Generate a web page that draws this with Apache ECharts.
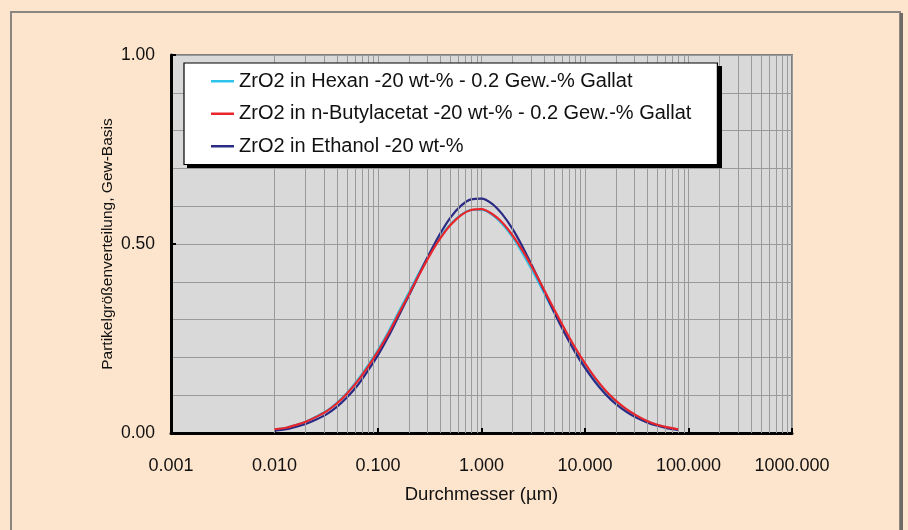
<!DOCTYPE html>
<html>
<head>
<meta charset="utf-8">
<script src="https://cdn.jsdelivr.net/npm/echarts@6/dist/echarts.min.js"></script>
<style>
  html, body { margin: 0; padding: 0; background: #fde4cc; }
  #chart { width: 908px; height: 530px; }
</style>
</head>
<body>
<div id="chart"></div>
<script>
// Particle size classes (µm), log-spaced
const sizes = [0.010, 0.013, 0.016, 0.020, 0.025, 0.032, 0.040, 0.050, 0.063, 0.079,
  0.100, 0.126, 0.158, 0.200, 0.251, 0.316, 0.398, 0.501, 0.631, 0.794,
  1.000, 1.259, 1.585, 1.995, 2.512, 3.162, 3.981, 5.012, 6.310, 7.943,
  10.00, 12.59, 15.85, 19.95, 25.12, 31.62, 39.81, 50.12, 63.10, 79.43];

// Distribution values, weight basis
const hexan = [0.009, 0.014, 0.021, 0.030, 0.043, 0.059, 0.080, 0.106, 0.139, 0.177,
  0.220, 0.268, 0.320, 0.373, 0.425, 0.474, 0.517, 0.552, 0.577, 0.590,
  0.590, 0.578, 0.553, 0.518, 0.474, 0.425, 0.373, 0.320, 0.269, 0.221,
  0.178, 0.140, 0.108, 0.082, 0.061, 0.044, 0.031, 0.021, 0.014, 0.009];

const butylacetat = [0.010, 0.014, 0.021, 0.030, 0.042, 0.058, 0.078, 0.104, 0.136, 0.173,
  0.216, 0.263, 0.315, 0.368, 0.420, 0.470, 0.514, 0.550, 0.576, 0.590,
  0.592, 0.580, 0.557, 0.523, 0.481, 0.433, 0.381, 0.328, 0.277, 0.228,
  0.184, 0.145, 0.112, 0.085, 0.063, 0.046, 0.032, 0.022, 0.015, 0.010];

const ethanol = [0.006, 0.010, 0.016, 0.024, 0.035, 0.050, 0.069, 0.094, 0.125, 0.163,
  0.206, 0.255, 0.309, 0.365, 0.421, 0.476, 0.527, 0.570, 0.601, 0.618,
  0.620, 0.607, 0.579, 0.540, 0.491, 0.436, 0.379, 0.321, 0.266, 0.216,
  0.172, 0.134, 0.102, 0.076, 0.056, 0.040, 0.028, 0.019, 0.012, 0.008];

const seriesNames = [
  'ZrO2 in Hexan -20 wt-% - 0.2 Gew.-% Gallat',
  'ZrO2 in n-Butylacetat -20 wt-% - 0.2 Gew.-% Gallat',
  'ZrO2 in Ethanol -20 wt-%'
];

// Minor vertical grid positions: 2..9 in each decade
const minorGrid = [];
[0.001, 0.01, 0.1, 1, 10, 100].forEach(d => {
  for (let k = 2; k <= 9; k++) minorGrid.push(+(d * k).toPrecision(3));
});

const FONT = 'Liberation Sans, Arial, sans-serif';
const pairs = ys => sizes.map((x, i) => [x, ys[i]]);

const chart = echarts.init(document.getElementById('chart'), null, { renderer: 'canvas' });

function curve(name, color, ys, z) {
  return {
    name, type: 'line', data: pairs(ys), z,
    showSymbol: false, symbol: 'none', smooth: 0.3,
    lineStyle: { color, width: 2.2 },
    itemStyle: { color },
    animation: false
  };
}

chart.setOption({
  backgroundColor: '#fde4cc',
  animation: false,
  textStyle: { fontFamily: FONT },
  graphic: [
    {
      type: 'rect', silent: true, z: 0,
      shape: { x: 11, y: 12, width: 889, height: 540 },
      style: { fill: 'none', stroke: '#8c8682', lineWidth: 2 }
    },
    {
      type: 'line', silent: true, z: 0,
      shape: { x1: 901.5, y1: 13, x2: 901.5, y2: 530 },
      style: { stroke: '#6f6a66', lineWidth: 3 }
    },
    {
      // drop shadow behind the legend box
      type: 'rect', silent: true, z: 15,
      shape: { x: 187, y: 66, width: 535, height: 102 },
      style: { fill: '#000' }
    }
  ],
  grid: {
    left: 171, top: 55, right: 116, bottom: 97,
    show: true, backgroundColor: '#d9d9d9',
    borderColor: '#808080', borderWidth: 2
  },
  legend: {
    data: seriesNames,
    z: 20,
    orient: 'vertical',
    left: 184, top: 63,
    padding: [7, 26, 7, 27],
    icon: 'rect',
    itemWidth: 23, itemHeight: 2.5, itemGap: 10,
    backgroundColor: '#ffffff',
    borderColor: '#000000', borderWidth: 1.2,
    textStyle: { fontFamily: FONT, fontSize: 20, color: '#111', lineHeight: 22.5 }
  },
  xAxis: {
    type: 'log', logBase: 10, min: 0.001, max: 1000,
    name: 'Durchmesser (µm)', nameLocation: 'middle', nameGap: 52,
    nameTextStyle: { fontFamily: FONT, fontSize: 18.5, color: '#111' },
    axisLine: { show: true, lineStyle: { color: '#000', width: 3 } },
    axisTick: { show: true, inside: true, length: 5, lineStyle: { color: '#000', width: 2 } },
    axisLabel: {
      fontFamily: FONT, fontSize: 18, color: '#111', margin: 24,
      formatter: v => Number(v).toFixed(3)
    },
    splitLine: { show: true, lineStyle: { color: '#9a9a9a', width: 1 } },
    minorTick: { show: false },
    minorSplitLine: { show: false }
  },
  yAxis: {
    type: 'value', min: 0, max: 1, interval: 0.5,
    name: 'Partikelgrößenverteilung, Gew-Basis', nameLocation: 'middle', nameGap: 55,
    nameMoveOverlap: false,
    nameTextStyle: { fontFamily: FONT, fontSize: 15.5, color: '#111' },
    axisLine: { show: true, lineStyle: { color: '#000', width: 3 } },
    axisTick: { show: true, inside: true, length: 5, lineStyle: { color: '#000', width: 2 } },
    axisLabel: {
      fontFamily: FONT, fontSize: 17.5, color: '#111', margin: 16,
      formatter: v => Number(v).toFixed(2)
    },
    splitLine: { show: true, lineStyle: { color: '#9a9a9a', width: 1 } },
    minorTick: { show: false, splitNumber: 5 },
    minorSplitLine: { show: true, lineStyle: { color: '#9a9a9a', width: 1 } }
  },
  series: [
    {
      name: 'grid-minor', type: 'line', data: [], z: 1, silent: true,
      markLine: {
        silent: true, symbol: ['none', 'none'], animation: false,
        label: { show: false },
        lineStyle: { color: '#9a9a9a', width: 1, type: 'solid' },
        emphasis: { disabled: true },
        data: minorGrid.map(v => ({ xAxis: v }))
      }
    },
    curve(seriesNames[0], '#2ec4ea', hexan, 3),
    curve(seriesNames[2], '#2b2b85', ethanol, 4),
    curve(seriesNames[1], '#e8252b', butylacetat, 5)
  ]
});
</script>
</body>
</html>
